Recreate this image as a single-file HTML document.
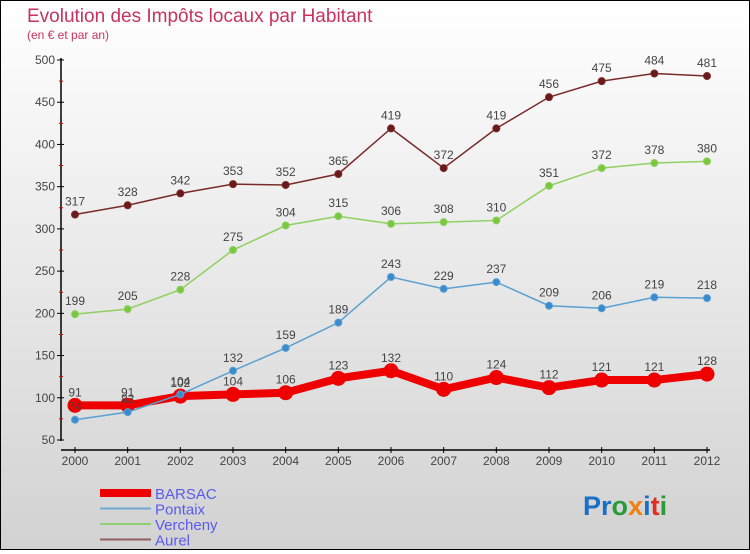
<!DOCTYPE html>
<html><head><meta charset="utf-8">
<style>
html,body{margin:0;padding:0;}
body{width:750px;height:550px;overflow:hidden;font-family:"Liberation Sans",sans-serif;}
#wrap{position:relative;width:748px;height:548px;border:1px solid #000;background:linear-gradient(#ffffff,#d2d2d2);}
</style></head><body>
<div id="wrap">
<svg id="chart" width="748" height="548" viewBox="1 1 748 548" xmlns="http://www.w3.org/2000/svg">
<text x="27" y="22" font-size="19" fill="#c8325f">Evolution des Impôts locaux par Habitant</text>
<text x="27" y="39" font-size="12" fill="#c8325f">(en € et par an)</text>
<g id="axes"></g>
<g id="series"></g>
<g id="legend"></g>
<text x="583" y="515" font-size="27" font-weight="bold"><tspan fill="#1a6fc8">Pr</tspan><tspan fill="#2a9a3a">o</tspan><tspan fill="#f08010">x</tspan><tspan fill="#1a6fc8">i</tspan><tspan fill="#e03020">t</tspan><tspan fill="#2a9a3a">i</tspan></text>
</svg>
</div>
<script>
const years = [2000,2001,2002,2003,2004,2005,2006,2007,2008,2009,2010,2011,2012];
const barsac = [91,91,102,104,106,123,132,110,124,112,121,121,128];
const pontaix = [74,83,104,132,159,189,243,229,237,209,206,219,218];
const vercheny = [199,205,228,275,304,315,306,308,310,351,372,378,380];
const aurel = [317,328,342,353,352,365,419,372,419,456,475,484,481];
const yTicks = [50,100,150,200,250,300,350,400,450,500];
const seriesNames = ["BARSAC","Pontaix","Vercheny","Aurel"];

const NS="http://www.w3.org/2000/svg";
const X0=75, XSTEP=(707-75)/12, Y0=440, YS=380/450;
const xs=i=>X0+i*XSTEP;
const ys=v=>Y0-(v-50)*YS;
function mk(tag,attrs,parent){const e=document.createElementNS(NS,tag);for(const k in attrs)e.setAttribute(k,attrs[k]);parent.appendChild(e);return e;}
const axes=document.getElementById('axes');
let l=mk('line',{x1:61,y1:58,x2:61,y2:441,stroke:'#000','stroke-width':1.5},axes);


l=mk('line',{x1:61,y1:450,x2:710,y2:450,stroke:'#000','stroke-width':1.5},axes);


yTicks.forEach((v,i)=>{
  const y=ys(v);
  mk('line',{x1:57,y1:y,x2:64,y2:y,stroke:'#000'},axes);
  const t=mk('text',{x:55,y:y+4,'font-size':12,'text-anchor':'end',fill:'#444'},axes);
  t.textContent=v;
  
  
  if(i<yTicks.length-1){const ym=ys(v+25);mk('line',{x1:59,y1:ym,x2:63,y2:ym,stroke:'#d00'},axes);}
});
years.forEach((yr,i)=>{
  const x=xs(i);
  mk('line',{x1:x,y1:447,x2:x,y2:453,stroke:'#000'},axes);
  const t=mk('text',{x:x,y:465,'font-size':12,'text-anchor':'middle',fill:'#444'},axes);
  t.textContent=yr;
  
  
});
const sg=document.getElementById('series');
function drawSeries(vals,color,w,r,dotFill,name){
  const g=mk('g',{},sg);
  
  
  const p=mk('polyline',{points:vals.map((v,i)=>xs(i)+','+ys(v)).join(' '),fill:'none',stroke:color,'stroke-width':w},g);
  
  
  vals.forEach((v,i)=>{
    const c=mk('circle',{cx:xs(i),cy:ys(v),r:r,fill:dotFill,stroke:color,'stroke-width':1},g);
    
    
    const t=mk('text',{x:xs(i),y:ys(v)-9,'font-size':12,'text-anchor':'middle',fill:'#444'},g);
    t.textContent=v;
    
    
  });
}
drawSeries(aurel,'#7a2a2a',1.5,3.5,'#6a1a1a','aurel');
drawSeries(vercheny,'#8fd060',1.5,3.5,'#7ac840','vercheny');
drawSeries(barsac,'#ee0000',8,7,'#ee0000','barsac');
drawSeries(pontaix,'#5aa0d0',1.5,3.5,'#3a8ad0','pontaix');
const lg=document.getElementById('legend');
const lstyles=[['#ee0000',8],['#70a8d0',2],['#90d070',2],['#906060',2]];
seriesNames.forEach((n,i)=>{
  const y=493+i*15.5;
  const ln=mk('line',{x1:100,y1:y,x2:151,y2:y,stroke:lstyles[i][0],'stroke-width':lstyles[i][1]},lg);
  
  
  const t=mk('text',{x:155,y:y+6,'font-size':15,fill:'#5a5af0'},lg);
  t.textContent=n;
  
  
});
</script>
</body></html>
